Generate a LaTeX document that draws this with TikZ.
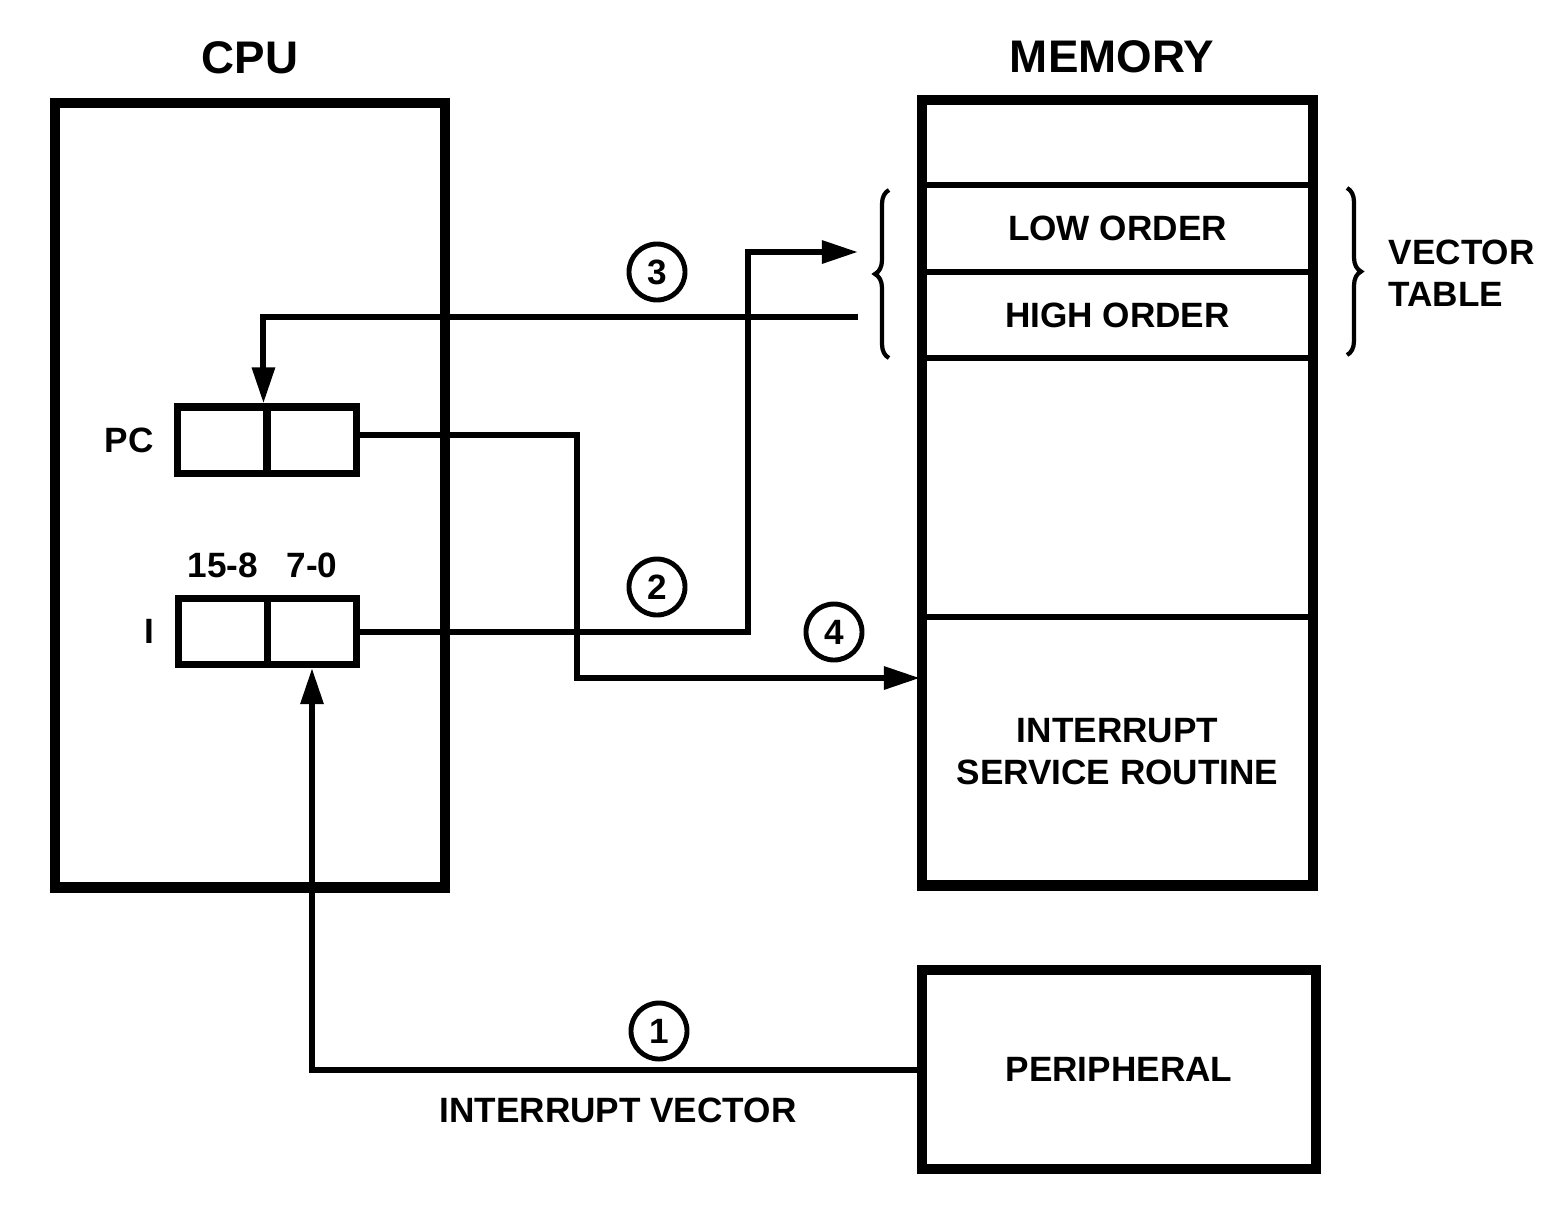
\documentclass[tikz,border=0pt]{standalone}
\usepackage{fontspec}
\setmainfont{Liberation Sans}
\usetikzlibrary{arrows.meta, positioning, decorations.pathreplacing}

\begin{document}
\begin{tikzpicture}[x=0.01cm, y=-0.01cm, font=\bfseries\fontsize{10}{12}\selectfont,
  >={Triangle[length=0.36cm, width=0.22cm]},
  bigbox/.style={draw, line width=3pt, inner sep=0pt, align=center},
  cell/.style={draw, line width=1.8pt, minimum width=3.91cm, outer sep=0pt, inner sep=0pt, align=center},
  reg/.style={draw, line width=2pt, minimum width=0.89cm, minimum height=0.66cm, inner sep=0pt},
  wire/.style={line width=1.7pt},
  num/.style={draw, circle, line width=1.4pt, minimum size=0.56cm, inner sep=0pt},
  vbrace/.style={decorate, decoration={brace, amplitude=0.14cm}, line width=1.2pt},
  title/.style={font=\bfseries\fontsize{13}{15}\selectfont, inner sep=0pt}]
\useasboundingbox (0,0) rectangle (1566,1217);

% CPU side
\node[bigbox, minimum width=3.9cm, minimum height=7.84cm] (cpu) at (250,495) {};
\node[title] (cpulbl) at (250,58) {CPU};

\node[reg] (pch) at (222.5,440) {};
\node[reg] (pcl) at (311.5,440) {};
\node[inner sep=0pt, left=0.2cm of pch] (pclbl) {PC};

\node[reg] (ih) at (223,631.5) {};
\node[reg] (il) at (312,631.5) {};
\node[inner sep=0pt, left=0.2cm of ih] (ilbl) {I};
\node[inner sep=0pt, above=0.16cm of ih] (hibits) {15-8};
\node[inner sep=0pt, above=0.16cm of il] (lobits) {7-0};

% Memory side
\node[title] (memlbl) at (1112,57) {MEMORY};
\node[cell, minimum height=0.85cm] (mtop) at (1117.5,142.5) {};
\node[cell, minimum height=0.87cm, below=0pt of mtop] (low) {LOW ORDER};
\node[cell, minimum height=0.86cm, below=0pt of low] (high) {HIGH ORDER};
\node[cell, minimum height=2.59cm, below=0pt of high] (mfree) {};
\node[cell, minimum height=2.68cm, below=0pt of mfree] (isr) {INTERRUPT\\SERVICE ROUTINE};
\draw[line width=3pt] (mtop.north west) rectangle (isr.south east);

\draw[vbrace] (889,358) -- (889,190);
\draw[vbrace] (1347,188) -- (1347,355);
\node[anchor=west, align=left, inner sep=0pt] (vtable) at (1388,273) {VECTOR\\TABLE};

\node[bigbox, minimum width=3.94cm, minimum height=1.99cm] (per) at (1119,1069.5) {PERIPHERAL};

% connectors
\coordinate (lowin) at (858,252);
\coordinate (highout) at (858,317);
\coordinate (isrin) at (920,678);

\draw[wire, ->] (per.west) -| (il.south);
\draw[wire, ->] (il.east) -| ++(388,-379.5) -- (lowin);
\draw[wire, ->] (highout) -| (pcl.north west);
\draw[wire, ->] ([yshift=0.05cm]pcl.east) -- ++(217,0) |- (isrin);

% step numbers
\node[num] (n1) at (659,1031) {1};
\node[num] (n2) at (657,587) {2};
\node[num] (n3) at (657,272) {3};
\node[num] (n4) at (834,632) {4};
\node[inner sep=0pt] (ivlbl) at (618,1110) {INTERRUPT VECTOR};
\end{tikzpicture}
\end{document}
